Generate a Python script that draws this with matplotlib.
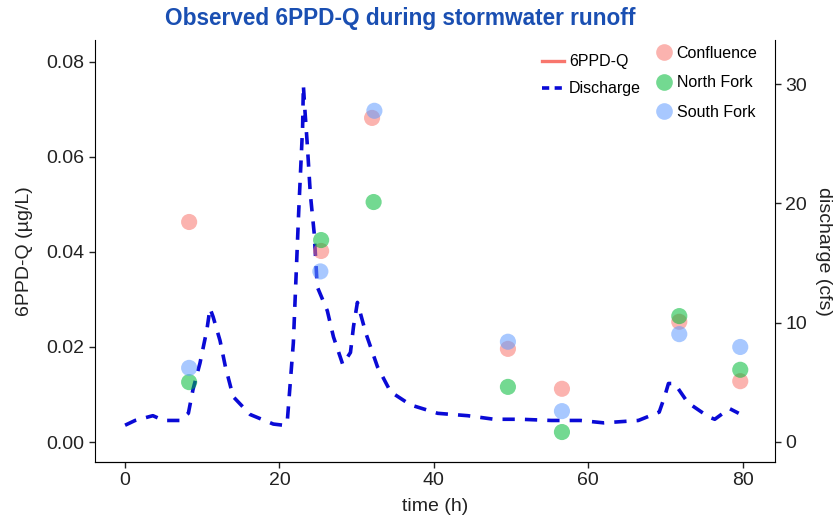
import matplotlib
matplotlib.use("Agg")
import matplotlib.pyplot as plt
from matplotlib.lines import Line2D

plt.rcParams['font.family'] = ['Liberation Sans', 'DejaVu Sans']

# discharge hydrograph
time_h = [0, 1.3, 3.6, 5.0, 7.1, 8.2, 8.8, 9.7, 10.6, 11.0, 11.4, 12.3, 13.0, 14.0,
          16.2, 19.2, 20.5, 21.0, 21.8, 22.5, 23.0, 23.1, 23.3, 23.6, 24.0, 24.5,
          24.9, 26.2, 27.0, 28.2, 29.2, 29.6, 30.1, 31.2, 32.7, 34.4, 37.0, 40.5,
          44.4, 47.8, 51.3, 55.2, 59.0, 62.0, 66.5, 69.2, 69.9, 70.4, 71.2, 72.9,
          75.6, 76.4, 78.3, 79.5]
discharge_cfs = [1.4, 1.8, 2.2, 1.8, 1.8, 2.4, 4.4, 6.6, 9.4, 11.2, 10.5, 8.5, 6.3, 3.8,
                 2.3, 1.5, 1.4, 1.6, 8.3, 19.4, 26.4, 29.9, 27.8, 25.0, 20.8, 17.5,
                 13.0, 11.0, 8.8, 6.5, 7.5, 9.7, 11.7, 9.1, 6.3, 4.2, 3.1, 2.4,
                 2.2, 1.9, 1.9, 1.8, 1.8, 1.6, 1.8, 2.5, 3.8, 4.9, 4.9, 3.3,
                 2.1, 1.9, 2.8, 2.4]

# 6PPD-Q samples (ug/L)
sites = ['Confluence', 'North Fork', 'South Fork']
sample_time = {
    'Confluence': [8.3, 25.4, 32.0, 49.6, 56.6, 71.8, 79.7],
    'North Fork': [8.3, 25.4, 32.2, 49.6, 56.6, 71.8, 79.7],
    'South Fork': [8.3, 25.3, 32.3, 49.6, 56.6, 71.8, 79.7],
}
sample_conc = {
    'Confluence': [0.0463, 0.0402, 0.0682, 0.0196, 0.0112, 0.0253, 0.0128],
    'North Fork': [0.0126, 0.0425, 0.0505, 0.0116, 0.0021, 0.0265, 0.0152],
    'South Fork': [0.0156, 0.0359, 0.0697, 0.0211, 0.0065, 0.0227, 0.0200],
}
site_colors = {'Confluence': '#F8766D', 'North Fork': '#00BA38', 'South Fork': '#619CFF'}

fig = plt.figure(figsize=(8.39, 5.22), dpi=100)
ax = fig.add_axes([0.1132, 0.115, 0.8105, 0.8084])
ax2 = ax.twinx()

ax2.plot(time_h, discharge_cfs, color='#0a0ad6', lw=2.6, dashes=(3.4, 2.8))

for s in sites:
    ax.scatter(sample_time[s], sample_conc[s], s=135, color=site_colors[s],
               alpha=0.55, edgecolors='none', zorder=3)

# points above the line
ax.set_zorder(ax2.get_zorder() + 1)
ax.patch.set_visible(False)

ax.set_xlim(-3.9, 84.2)
ax.set_ylim(-0.0042, 0.0846)
ax2.set_ylim(-1.68, 33.7)
ax.set_xticks([0, 20, 40, 60, 80])
ax.set_yticks([0.00, 0.02, 0.04, 0.06, 0.08])
ax.set_yticklabels(['0.00', '0.02', '0.04', '0.06', '0.08'])
ax2.set_yticks([0, 10, 20, 30])

for a in (ax, ax2):
    a.spines['top'].set_visible(False)
    a.tick_params(labelsize=14, colors='#222222', length=4, width=1)
ax2.spines['left'].set_visible(False)
ax.spines['right'].set_visible(False)

ax.set_xlabel('time (h)', fontsize=14, color='#222222', labelpad=6)
ax.set_ylabel('6PPD-Q (\u00b5g/L)', fontsize=14, color='#222222', labelpad=10)
ax2.set_ylabel('discharge (cfs)', fontsize=14, color='#222222', rotation=-90, labelpad=18)

fig.text(0.477, 0.965, 'Observed 6PPD-Q during stormwater runoff', ha='center', va='center',
         fontsize=16.3, fontweight='bold', color='#1a4fb2')

line_handles = [Line2D([], [], color='#F8766D', lw=2.4),
                Line2D([], [], color='#0a0ad6', lw=2.6, dashes=(2.0, 1.5))]
leg1 = ax2.legend(line_handles, ['6PPD-Q', 'Discharge'], loc='upper left',
                  bbox_to_anchor=(0.636, 1.0), frameon=False, fontsize=11.5,
                  handlelength=1.4, handletextpad=0.3, labelspacing=0.75)
ax2.add_artist(leg1)

pt_handles = [Line2D([], [], ls='none', marker='o', markersize=12,
                     markerfacecolor=site_colors[s], markeredgecolor='none', alpha=0.55)
              for s in sites]
ax2.legend(pt_handles, sites, loc='upper left', bbox_to_anchor=(0.806, 1.02),
           frameon=False, fontsize=11.5, handlelength=0.8, handletextpad=0.4,
           labelspacing=0.9)

fig.savefig('out.png', dpi=100)
